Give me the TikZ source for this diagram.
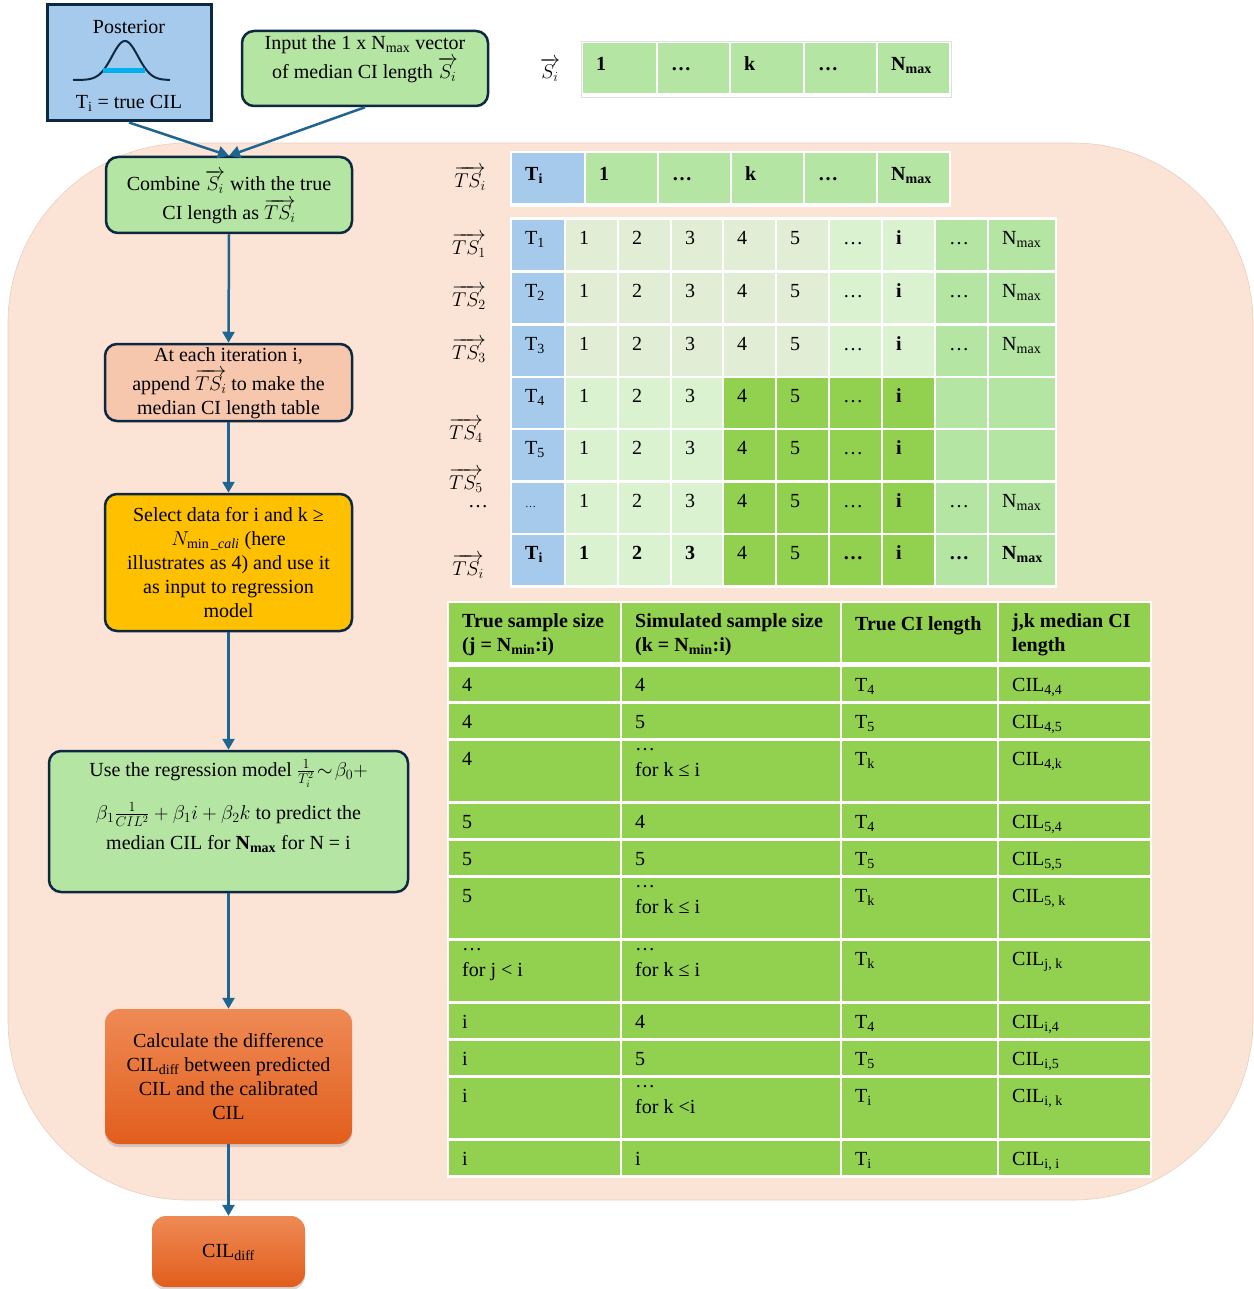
\documentclass[tikz,border=0pt]{standalone}
\usepackage{fix-cm}
\usepackage{amsmath}
\usepackage{fontspec}
\setmainfont{Liberation Serif}
\usetikzlibrary{arrows.meta,shadows}
\definecolor{navyC}{HTML}{0E2841}
\definecolor{arrowc}{HTML}{1F6591}
\definecolor{blueC}{HTML}{A6CAEC}
\definecolor{midG}{HTML}{B4E5A2}
\definecolor{strongG}{HTML}{92D050}
\definecolor{lightG}{HTML}{DAF2D0}
\definecolor{greyG}{HTML}{E2EDD5}
\definecolor{peach}{HTML}{FBE3D6}
\definecolor{peachEdge}{HTML}{E9CFC2}
\definecolor{iterC}{HTML}{F6C6AD}
\definecolor{yellowC}{HTML}{FFC000}
\definecolor{orTop}{HTML}{EF8A55}
\definecolor{orBot}{HTML}{E15E1C}
\definecolor{cyanC}{HTML}{00B0F0}
\newcommand\lsub[1]{\textsubscript{#1}}
\tikzset{
  every node/.style={font=\fontsize{20}{24}\selectfont},
  cellbase/.style={rectangle, draw=none, inner sep=0pt, outer sep=0pt},
  celltext/.style={anchor=north west, inner sep=0pt, align=left, execute at begin node=\strut},
  fbox/.style={rectangle, draw=navyC, line width=2.5pt, rounded corners=12pt, inner sep=0pt},
  sqbox/.style={rectangle, draw=navyC, line width=3pt, fill=blueC, inner sep=0pt},
  obox/.style={rectangle, draw=none, rounded corners=14pt, inner sep=0pt, top color=orTop, bottom color=orBot,
    drop shadow={opacity=0.3, shadow xshift=0pt, shadow yshift=-3pt}},
  txt/.style={align=center, inner sep=0pt},
  flow/.style={draw=arrowc, line width=2.5pt, -{Triangle[length=11pt,width=12pt]}},
  bgbox/.style={rectangle, fill=peach, draw=peachEdge, line width=0.6pt, rounded corners=180pt, inner sep=0pt},
  frame/.style={rectangle, fill=white, draw=black!12, line width=0.6pt, inner sep=0pt}
}
\newcommand\cellt[8]{%
  \pgfmathsetmacro\cw{#4-#2}%
  \pgfmathsetmacro\ch{#5-#3}%
  \node[cellbase, fill=#6, minimum width=\cw pt, minimum height=\ch pt] (#1) at ({(#2+#4)/2},{(#3+#5)/2}) {};
  \node[celltext] (#1-t) at ([xshift=13pt, yshift=-#8pt]#1.north west) {#7};%
}
\begin{document}
\begin{tikzpicture}[x=1pt,y=-1pt]
\fill[white] (0,0) rectangle (1253,1289);
\useasboundingbox (0,0) rectangle (1253,1289);

% big background
\node[bgbox, minimum width=1245pt, minimum height=1057pt] (bg) at (630.5,671.5) {};

% ---- flowchart boxes ----
\node[sqbox, minimum width=164pt, minimum height=116pt] (post) at (129,63) {};
\node[txt] (postT) at (129,27) {Posterior};
\node[txt] (postB) at (129,103) {T\lsub{i} = true CIL};
\draw[navyC, line width=2pt] plot[domain=73:170, samples=80, smooth] (\x,{80-39*exp(-((\x-125)^2)/338)});
\draw[cyanC, line width=5pt] (103,71) -- (145,71);

\node[fbox, fill=midG, minimum width=246pt, minimum height=75pt] (inp) at (365,68.5) {};
\node[txt] (inpT) at (365,59) {Input the 1 x N\lsub{max} vector\\[3pt]of median CI length $\overrightarrow{S_i}$};

\node[fbox, fill=midG, minimum width=246pt, minimum height=76pt] (comb) at (229,195) {};
\node[txt] (combT) at (229,197) {Combine $\overrightarrow{S_i}$ with the true\\[4pt]CI length as $\overrightarrow{TS_i}$};

\node[fbox, fill=iterC, minimum width=247pt, minimum height=77pt] (iter) at (228.5,382.5) {};
\node[txt] (iterT) at (228.5,383) {At each iteration i,\\[4pt]append $\overrightarrow{TS_i}$ to make the\\median CI length table};

\node[fbox, fill=yellowC, minimum width=247pt, minimum height=137pt] (sel) at (228.5,562.5) {};
\node[txt] (selT) at (228.5,563) {Select data for i and k ≥\\$N_{\min\textit{\_cali}}$ (here\\illustrates as 4) and use it\\as input to regression\\model};

\node[fbox, fill=midG, minimum width=359pt, minimum height=141pt] (use) at (228.5,821.5) {};
\node[txt] (useT) at (228.5,806) {Use the regression model $\frac{1}{T_i^2}\!\sim\!\beta_0+$\\[14pt]$\beta_1\frac{1}{CIL^2}+\beta_1 i+\beta_2 k$ to predict the\\[6pt]median CIL for \textbf{N\lsub{max}} for N = i};

\node[obox, minimum width=247pt, minimum height=135pt] (calc) at (228.5,1076.5) {};
\node[txt] (calcT) at (228.5,1077) {Calculate the difference\\CIL\lsub{diff} between predicted\\CIL and the calibrated\\CIL};

\node[obox, minimum width=153pt, minimum height=71pt] (cild) at (228.5,1251.5) {};
\node[txt] (cildT) at (228.5,1252) {CIL\lsub{diff}};

% ---- connectors ----
\draw[flow] (post.south) -- (comb.north);
\draw[flow] (inp.south) -- (comb.north);
\draw[flow] (comb.south) -- (iter.north);
\draw[flow] (iter.south) -- (sel.north);
\draw[flow] (sel.south) -- (use.north);
\draw[flow] (use.south) -- (calc.north);
\draw[flow] (calc.south) -- (cild.north);

% ---- labels ----
\node (lS) at (550,70) {$\overrightarrow{S_i}$};
\node (lTSi) at (470,178) {$\overrightarrow{TS_i}$};
\node (lTS1) at (469,245) {$\overrightarrow{TS_1}$};
\node (lTS2) at (469,297) {$\overrightarrow{TS_2}$};
\node (lTS3) at (469,350) {$\overrightarrow{TS_3}$};
\node (lTS4) at (466,430) {$\overrightarrow{TS_4}$};
\node (lTS5) at (466,480) {$\overrightarrow{TS_5}$};
\node (ldots) at (478,507) {…};
\node (lTSb) at (468,566) {$\overrightarrow{TS_i}$};

% ---- top vector S_i ----
\node[frame, minimum width=370pt, minimum height=56pt] (vframe) at (766,69) {};
\foreach \c/\xa/\xb/\tx in {1/583/656/{\textbf{1}},2/658/729/{\textbf{…}},3/731/803/{\textbf{k}},4/805/876/{\textbf{…}},5/878/949/{\textbf{N\lsub{max}}}}{
  \cellt{v\c}{\xa}{43}{\xb}{93}{midG}{\tx}{10.2}
}

% ---- TS_i row ----
\node[frame, draw=none, minimum width=441pt, minimum height=56pt] (tframe) at (730.5,179) {};
\foreach \c/\xa/\xb/\cl/\tx in {0/512/584/blueC/{\textbf{T\lsub{i}}},1/586/657/midG/{\textbf{1}},2/659/730/midG/{\textbf{…}},3/732/803/midG/{\textbf{k}},4/805/876/midG/{\textbf{…}},5/878/949/midG/{\textbf{N\lsub{max}}}}{
  \cellt{t\c}{\xa}{153}{\xb}{203}{\cl}{\tx}{10.2}
}

% ---- grid ----
\node[frame, draw=none, minimum width=547pt, minimum height=370pt] (gframe) at (783.5,402.5) {};
\foreach \r/\ya/\yb/\T in {a/220/270/{T\lsub{1}},b/273/323/{T\lsub{2}},c/326/376/{T\lsub{3}}}{
  \foreach \c/\xa/\xb/\cl/\tx in {0/512/564/blueC/{\T},1/566/617/greyG/1,2/619/670/greyG/2,3/672/722/greyG/3,4/724/775/greyG/4,5/777/828/greyG/5,6/830/881/lightG/…,7/883/934/lightG/{\textbf{i}},8/936/987/midG/…,9/989/1055/midG/{N\lsub{max}}}{
    \cellt{g\r\c}{\xa}{\ya}{\xb}{\yb}{\cl}{\tx}{7.2}
  }
}
\foreach \r/\ya/\yb/\T in {d/378/428/{T\lsub{4}},e/430/480/{T\lsub{5}}}{
  \foreach \c/\xa/\xb/\cl/\tx in {0/512/564/blueC/{\T},1/566/617/lightG/1,2/619/670/lightG/2,3/672/722/lightG/3,4/724/775/strongG/4,5/777/828/strongG/5,6/830/881/strongG/…,7/883/934/strongG/{\textbf{i}},8/936/987/midG/{},9/989/1055/midG/{}}{
    \cellt{g\r\c}{\xa}{\ya}{\xb}{\yb}{\cl}{\tx}{7.2}
  }
}
\foreach \c/\xa/\xb/\cl/\tx in {0/512/564/blueC/{{\fontsize{11}{13}\selectfont …}},1/566/617/lightG/1,2/619/670/lightG/2,3/672/722/lightG/3,4/724/775/strongG/4,5/777/828/strongG/5,6/830/881/strongG/…,7/883/934/strongG/{\textbf{i}},8/936/987/midG/…,9/989/1055/midG/{N\lsub{max}}}{
  \cellt{gf\c}{\xa}{483}{\xb}{533}{\cl}{\tx}{7.2}
}
\foreach \c/\xa/\xb/\cl/\tx in {0/512/564/blueC/{\textbf{T\lsub{i}}},1/566/617/lightG/{\textbf{1}},2/619/670/lightG/{\textbf{2}},3/672/722/lightG/{\textbf{3}},4/724/775/strongG/4,5/777/828/strongG/5,6/830/881/strongG/{\textbf{…}},7/883/934/strongG/{\textbf{i}},8/936/987/midG/{\textbf{…}},9/989/1055/midG/{\textbf{N\lsub{max}}}}{
  \cellt{gg\c}{\xa}{535}{\xb}{585}{\cl}{\tx}{7.2}
}

% ---- bottom table ----
\node[frame, draw=none, minimum width=705pt, minimum height=577pt] (bframe) at (799.5,889.5) {};
\cellt{h1}{449}{603}{620}{662}{strongG}{\textbf{True sample size}\\\textbf{(j = N\lsub{min}:i)}}{10.5}
\cellt{h2}{622}{603}{840}{662}{strongG}{\textbf{Simulated sample size}\\\textbf{(k = N\lsub{min}:i)}}{10.5}
\cellt{h3}{842}{603}{997}{662}{strongG}{\textbf{True CI length}}{10.5}
\cellt{h4}{999}{603}{1150}{662}{strongG}{\textbf{j,k median CI}\\\textbf{length}}{10.5}
\foreach \r/\ya/\yb/\ta/\tb/\tc/\td in {
  1/667/701/{4}/{4}/{T\lsub{4}}/{CIL\lsub{4,4}},
  2/704/738/{4}/{5}/{T\lsub{5}}/{CIL\lsub{4,5}},
  3/741/801/{4}/{…\\[2pt]for k ≤ i}/{T\lsub{k}}/{CIL\lsub{4,k}},
  4/804/838/{5}/{4}/{T\lsub{4}}/{CIL\lsub{5,4}},
  5/841/875/{5}/{5}/{T\lsub{5}}/{CIL\lsub{5,5}},
  6/878/938/{5}/{…\\[2pt]for k ≤ i}/{T\lsub{k}}/{CIL\lsub{5, k}},
  7/941/1001/{…\\[2pt]for j < i}/{…\\[2pt]for k ≤ i}/{T\lsub{k}}/{CIL\lsub{j, k}},
  8/1004/1038/{i}/{4}/{T\lsub{4}}/{CIL\lsub{i,4}},
  9/1041/1075/{i}/{5}/{T\lsub{5}}/{CIL\lsub{i,5}},
  10/1078/1138/{i}/{…\\[2pt]for k <i}/{T\lsub{i}}/{CIL\lsub{i, k}},
  11/1141/1175/{i}/{i}/{T\lsub{i}}/{CIL\lsub{i, i}}}{
  \cellt{b\r a}{449}{\ya}{620}{\yb}{strongG}{\ta}{7.2}
  \cellt{b\r b}{622}{\ya}{840}{\yb}{strongG}{\tb}{7.2}
  \cellt{b\r c}{842}{\ya}{997}{\yb}{strongG}{\tc}{7.2}
  \cellt{b\r d}{999}{\ya}{1150}{\yb}{strongG}{\td}{7.2}
}
\end{tikzpicture}
\end{document}
